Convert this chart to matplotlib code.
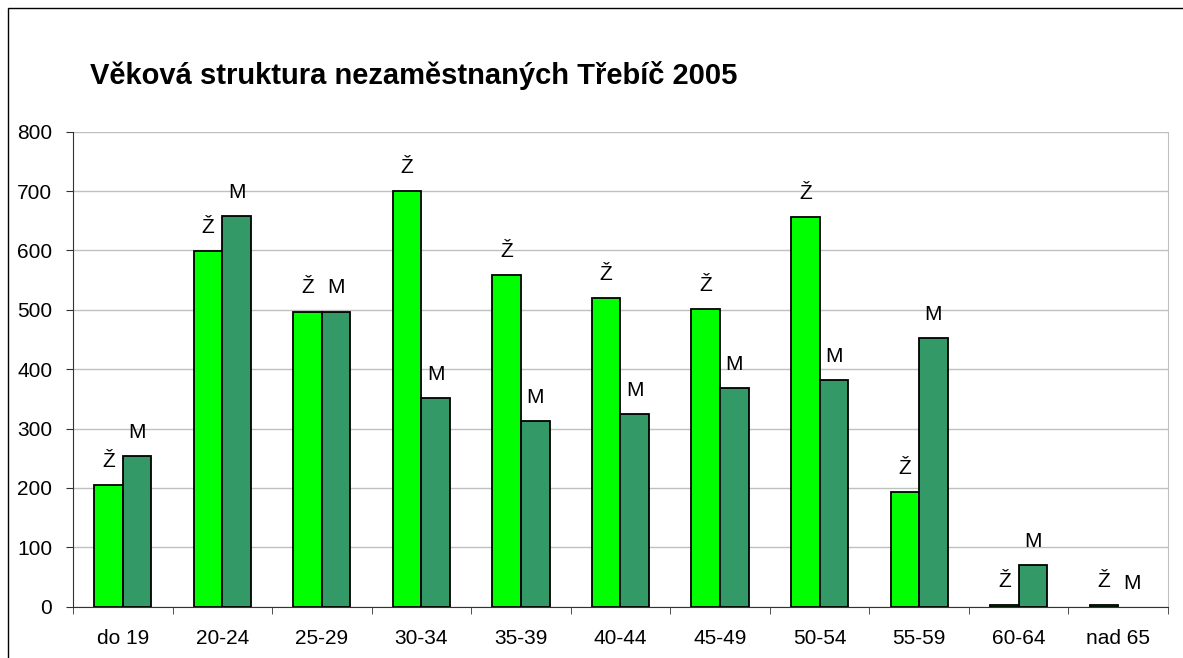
import numpy as np
import matplotlib.pyplot as plt
from matplotlib.patches import Rectangle

# Age groups and counts of unemployed (women Ž, men M)
categories = ['do 19', '20-24', '25-29', '30-34', '35-39', '40-44',
              '45-49', '50-54', '55-59', '60-64', 'nad 65']
zeny = [205, 599, 497, 700, 558, 520, 501, 656, 193, 3, 3]
muzi = [254, 658, 497, 352, 313, 324, 368, 381, 453, 70, 0]
yticks = [0, 100, 200, 300, 400, 500, 600, 700, 800]

plt.rcParams['font.family'] = ['Liberation Sans', 'DejaVu Sans']

fig = plt.figure(figsize=(11.83, 6.58), dpi=100)
ax = fig.add_axes([0.0617, 0.0781, 0.9256, 0.7218])

# chart area border (cropped at right and bottom)
fig.patches.append(Rectangle((8 / 1183, -0.1), 1.2, 1 - 8 / 658 + 0.1,
                             transform=fig.transFigure, fill=False,
                             edgecolor='black', lw=1.0, clip_on=False))

x = np.arange(len(categories))
w = 0.287
ax.bar(x - w / 2, zeny, w, color='#00FF00', edgecolor='black', lw=1.3, zorder=3)
bm = ax.bar(x + w / 2, muzi, w, color='#339966', edgecolor='black', lw=1.3, zorder=3)
for b, v in zip(bm, muzi):
    if v == 0:
        b.set_linewidth(0)

for xi, v in zip(x, zeny):
    ax.annotate('Ž', (xi - w / 2, v), xytext=(0, 13), textcoords='offset points',
                ha='center', va='baseline', fontsize=15)
for xi, v in zip(x, muzi):
    ax.annotate('M', (xi + w / 2, v), xytext=(0, 13), textcoords='offset points',
                ha='center', va='baseline', fontsize=15)

ax.set_xlim(-0.5, len(categories) - 0.5)
ax.set_ylim(0, 800)
ax.set_yticks(yticks)
ax.set_xticks(x)
ax.set_xticklabels(categories)
ax.set_xticks(np.arange(len(categories) + 1) - 0.5, minor=True)
ax.tick_params(axis='x', which='major', length=0, labelsize=15, pad=16)
ax.tick_params(axis='x', which='minor', length=5, direction='out', color='#333333')
ax.tick_params(axis='y', length=5, direction='out', labelsize=15, color='#333333', pad=10)

ax.yaxis.grid(True, color='#C0C0C0', lw=1.0, zorder=0)
ax.set_axisbelow(True)
ax.spines['top'].set_visible(False)
ax.spines['right'].set_color('#C0C0C0')
ax.spines['left'].set_color('#333333')
ax.spines['bottom'].set_color('#333333')

fig.text(90 / 1183, 1 - 75 / 658, 'Věková struktura nezaměstnaných Třebíč 2005',
         fontsize=21, fontweight='bold', ha='left', va='center')

fig.savefig('out.png', dpi=100)
